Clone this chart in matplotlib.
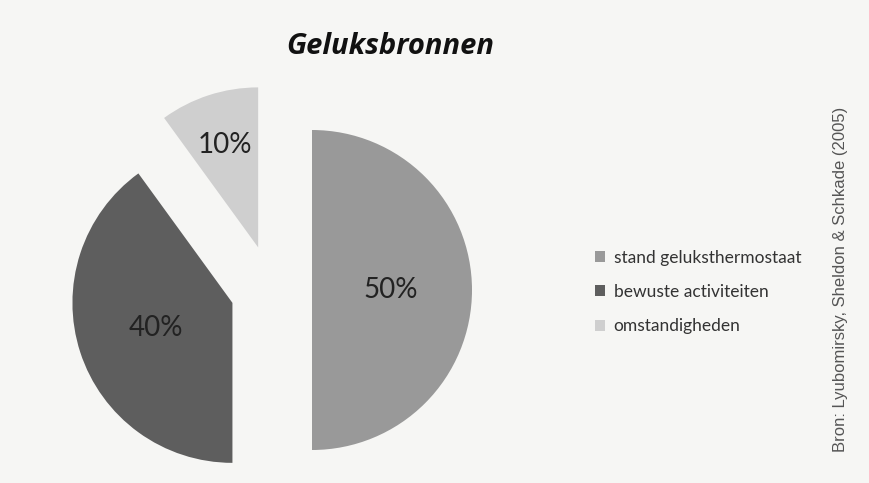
import numpy as np
import matplotlib.pyplot as plt

# Data
labels = ['stand geluksthermostaat', 'bewuste activiteiten', 'omstandigheden']
values = [50, 40, 10]
pct_text = ['50%', '40%', '10%']
colors = ['#999999', '#5e5e5e', '#cfcfcf']
explode = [0.25, 0.26, 0.28]   # in radii
pct_dist = [0.49, 0.5, 0.67]   # label distance from slice tip, in radii

W, H = 869, 483
fig = plt.figure(figsize=(W/100, H/100), dpi=100, facecolor='#f6f6f4')
ax = fig.add_axes([0, 0, 1, 1])
ax.set_facecolor('#f6f6f4')

R = 160
wedges, _ = ax.pie(values, colors=colors, explode=[e*R for e in explode],
                   startangle=90, counterclock=False, center=(272, H - 290),
                   radius=R, wedgeprops=dict(linewidth=0))
ax.set_xlim(0, W)
ax.set_ylim(0, H)
ax.set_aspect('equal')
ax.axis('off')

# percentage labels, placed from each wedge's own geometry
for w, txt, d in zip(wedges, pct_text, pct_dist):
    mid = np.deg2rad((w.theta1 + w.theta2) / 2)
    cx, cy = w.center
    ax.text(cx + d*w.r*np.cos(mid), cy + d*w.r*np.sin(mid), txt,
            ha='center', va='center', fontsize=20, family='Lato', color='#222222')

# title
fig.text(390/W, 1 - 47/H, 'Geluksbronnen', ha='center', va='center',
         fontsize=21, fontweight='bold', fontstyle='italic', family='Open Sans',
         color='#111111')

# legend
leg = ax.legend(wedges, labels, loc='center left', bbox_to_anchor=(579/W, 1 - 292/H),
                bbox_transform=fig.transFigure, frameon=False,
                prop=dict(family='Lato', size=12.5), handlelength=0.6, handleheight=0.6,
                handletextpad=0.5, labelspacing=1.05)
for t in leg.get_texts():
    t.set_color('#333333')

# source
fig.text(840/W, 1 - 279/H, 'Bron: Lyubomirsky, Sheldon & Schkade (2005)',
         rotation=90, ha='center', va='center', fontsize=12,
         family='Liberation Sans', color='#555555')

fig.savefig('out.png', dpi=100, facecolor=fig.get_facecolor())
